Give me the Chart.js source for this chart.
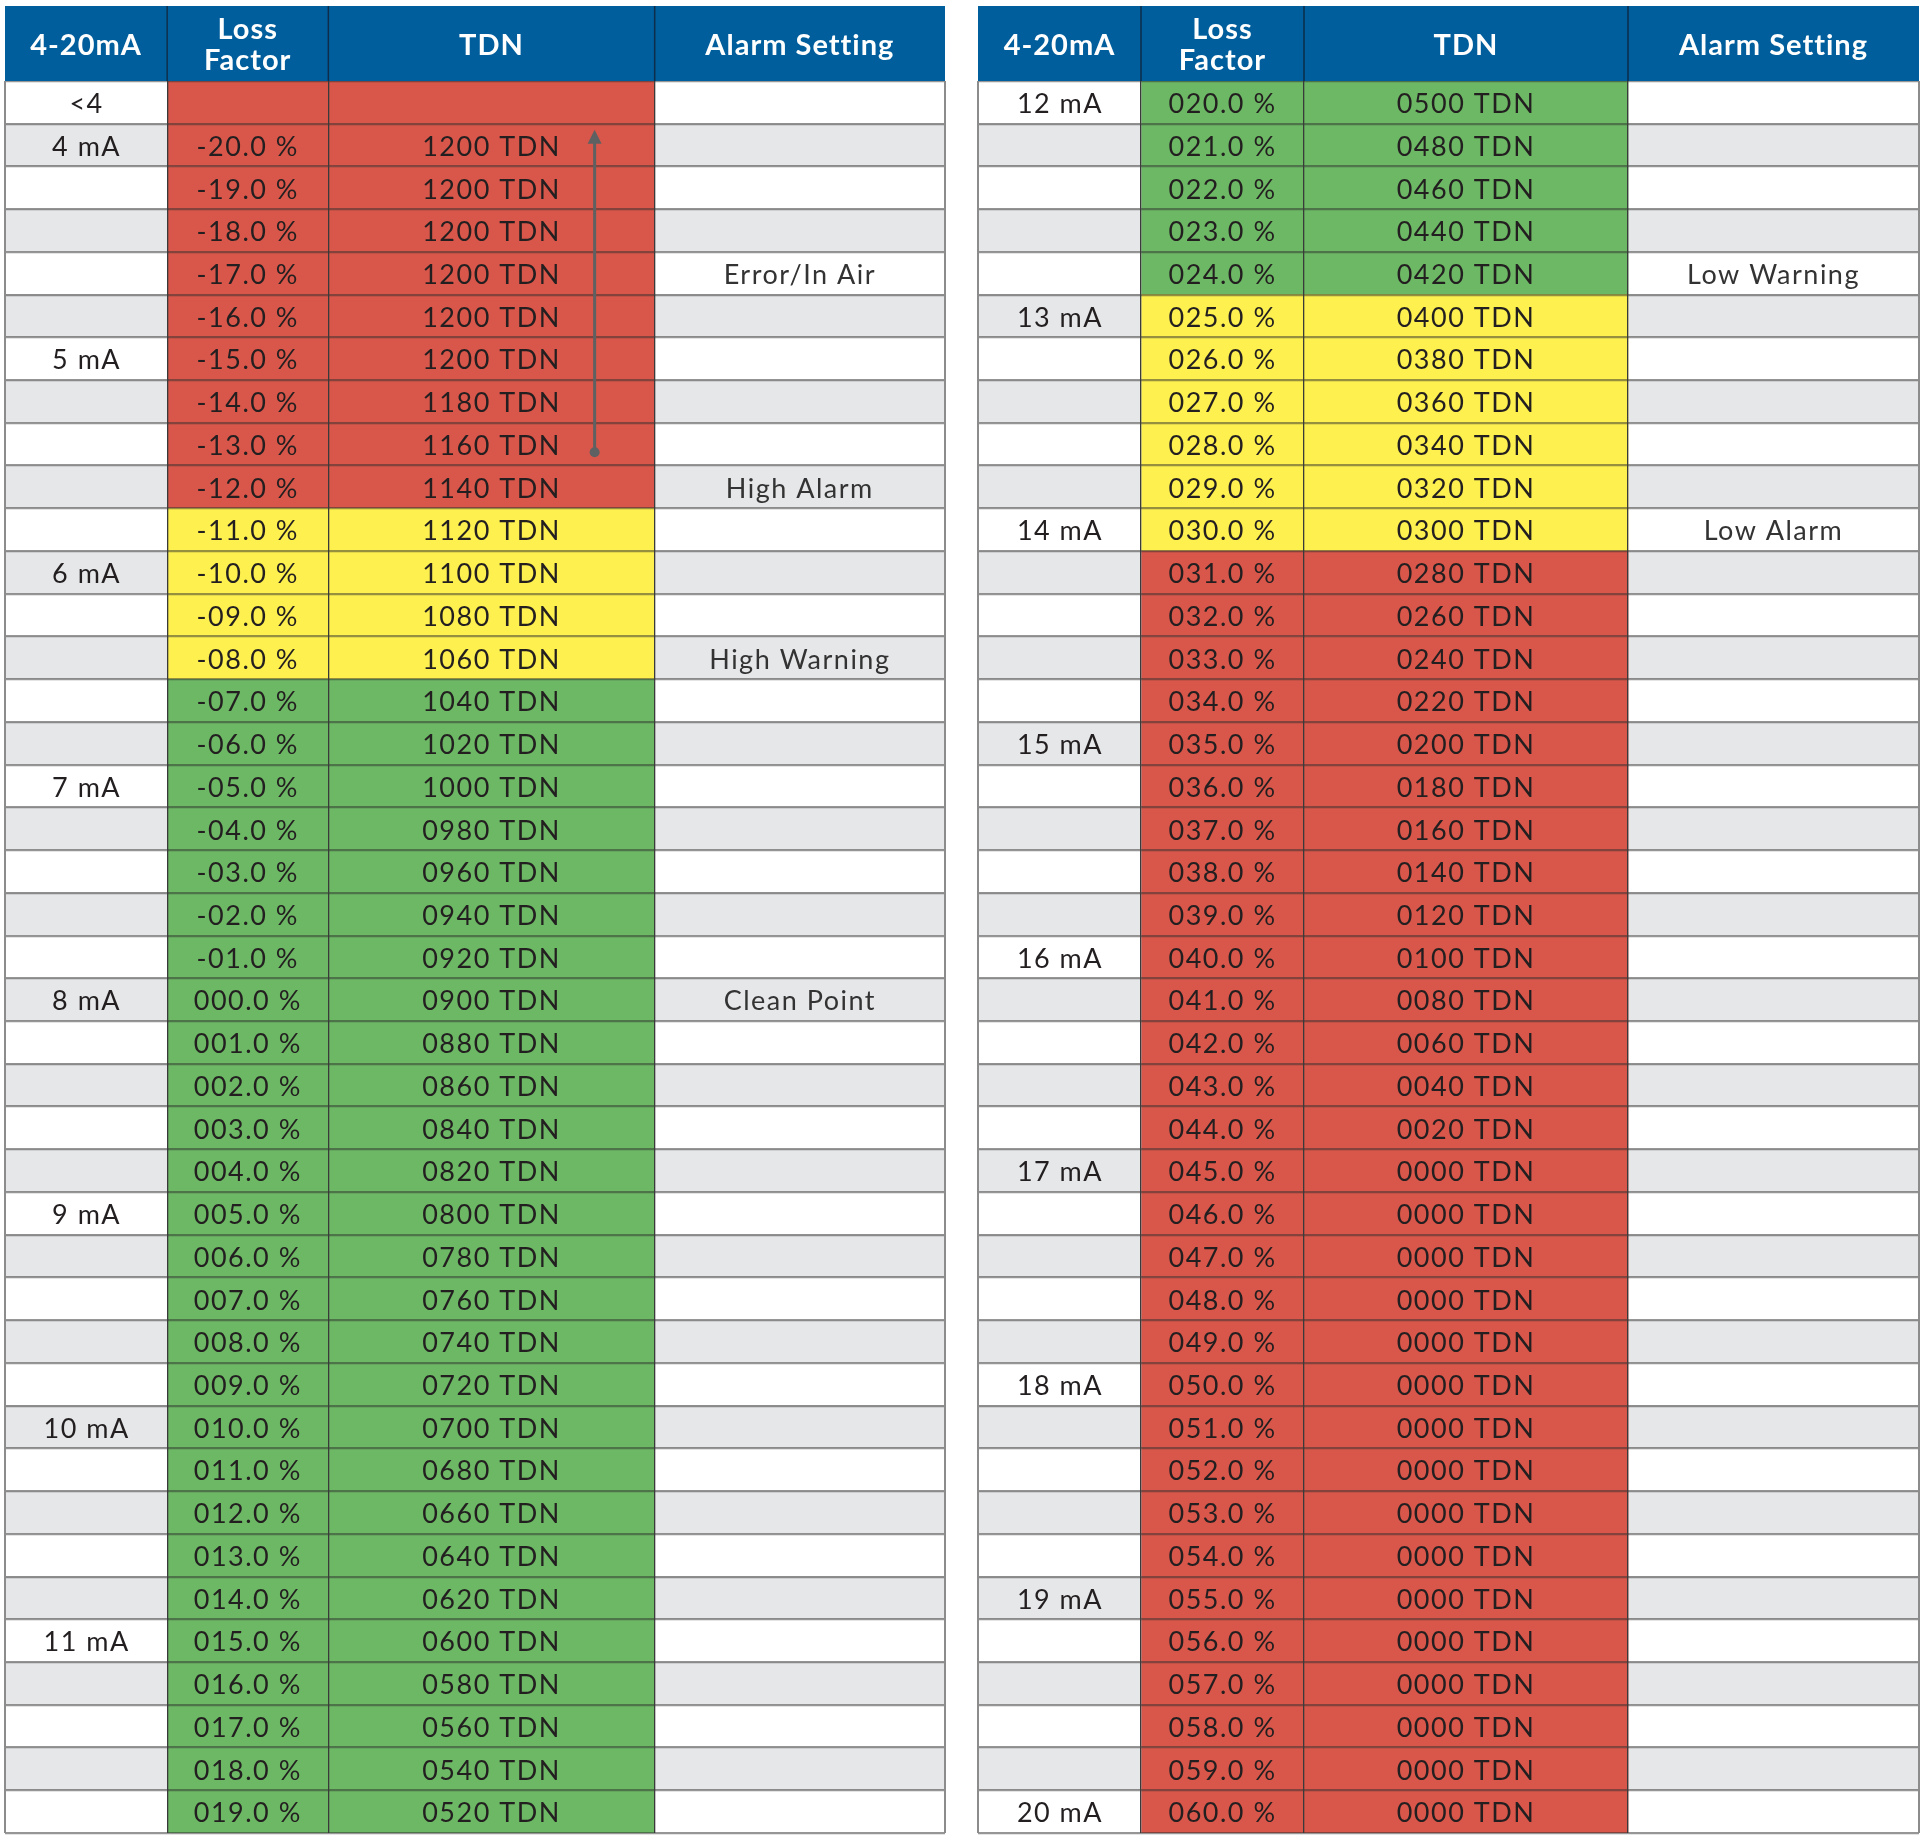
<!DOCTYPE html>
<html>
<head>
<meta charset="utf-8">
<script src="https://cdn.jsdelivr.net/npm/chart.js@4.4.1/dist/chart.umd.min.js"></script>
<style>
body{margin:0;background:#fff;width:1920px;height:1835px;position:relative;overflow:hidden}
canvas{position:absolute}
#left{left:3px;top:6px}
#right{left:976px;top:6px}
</style>
</head>
<body>
<canvas id="left" width="944" height="1829"></canvas>
<canvas id="right" width="945" height="1829"></canvas>
<script>
// column headers (same for both halves)
var headers = ['4-20mA', 'Loss\nFactor', 'TDN', 'Alarm Setting'];

// left half: <4 mA up to 11 mA
var leftMa = ['<4','4 mA','','','','','5 mA','','','','','6 mA','','','','','7 mA','','','','',
  '8 mA','','','','','9 mA','','','','','10 mA','','','','','11 mA','','','',''];
var leftLoss = [null,-20,-19,-18,-17,-16,-15,-14,-13,-12,-11,-10,-9,-8,-7,-6,-5,-4,-3,-2,-1,
  0,1,2,3,4,5,6,7,8,9,10,11,12,13,14,15,16,17,18,19];
var leftTdn = [null,1200,1200,1200,1200,1200,1200,1180,1160,1140,1120,1100,1080,1060,1040,1020,1000,
  980,960,940,920,900,880,860,840,820,800,780,760,740,720,700,680,660,640,620,600,580,560,540,520];
var leftZone = ['R','R','R','R','R','R','R','R','R','R','Y','Y','Y','Y',
  'G','G','G','G','G','G','G','G','G','G','G','G','G','G','G','G','G','G','G','G','G','G','G','G','G','G','G'];
var leftAlarm = ['','','','','Error/In Air','','','','','High Alarm','','','','High Warning','','','','','','','',
  'Clean Point','','','','','','','','','','','','','','','','','','',''];

// right half: 12 mA up to 20 mA
var rightMa = ['12 mA','','','','','13 mA','','','','','14 mA','','','','','15 mA','','','','',
  '16 mA','','','','','17 mA','','','','','18 mA','','','','','19 mA','','','','','20 mA'];
var rightLoss = [20,21,22,23,24,25,26,27,28,29,30,31,32,33,34,35,36,37,38,39,40,
  41,42,43,44,45,46,47,48,49,50,51,52,53,54,55,56,57,58,59,60];
var rightTdn = [500,480,460,440,420,400,380,360,340,320,300,280,260,240,220,200,180,160,140,120,100,
  80,60,40,20,0,0,0,0,0,0,0,0,0,0,0,0,0,0,0,0];
var rightZone = ['G','G','G','G','G','Y','Y','Y','Y','Y','Y',
  'R','R','R','R','R','R','R','R','R','R','R','R','R','R','R','R','R','R','R','R','R','R','R','R','R','R','R','R','R','R'];
var rightAlarm = ['','','','','Low Warning','','','','','','Low Alarm','','','','','','','','','','',
  '','','','','','','','','','','','','','','','','','','',''];

var zoneColors = {R: '#d9574a', Y: '#fdf04f', G: '#6db865'};
var WHITE = '#ffffff', GRAY = '#e6e7e9', BLUE = '#005e9c', INK = '#231f20';
var FONT = 'Lato, "Open Sans", sans-serif';
var HEADER_H = 75;

function pad(n, w) { var s = String(n); while (s.length < w) s = '0' + s; return s; }
function fmtLoss(v) {
  if (v === null) return '';
  return v < 0 ? '-' + pad(-v, 2) + '.0 %' : pad(v, 3) + '.0 %';
}
function fmtTdn(v) { return v === null ? '' : pad(v, 4) + ' TDN'; }

var tablePlugin = {
  id: 'tableText',
  afterDraw: function(chart) {
    var ctx = chart.ctx, area = chart.chartArea;
    var xs = chart.scales.x, ys = chart.scales.y;
    var edges = chart.options.plugins.tableText.edges;
    ctx.save();
    // header band
    var top = area.top - HEADER_H;
    for (var c = 0; c < 4; c++) {
      var x0 = xs.getPixelForValue(edges[c]), x1 = xs.getPixelForValue(edges[c + 1]);
      ctx.fillStyle = BLUE;
      ctx.fillRect(x0, top, x1 - x0, HEADER_H);
      if (c > 0) {
        ctx.strokeStyle = '#0d2d4a';
        ctx.lineWidth = 1.5;
        ctx.beginPath(); ctx.moveTo(x0, top); ctx.lineTo(x0, area.top); ctx.stroke();
      }
      ctx.fillStyle = '#ffffff';
      ctx.font = 'bold 29px ' + FONT;
      ctx.letterSpacing = '1px';
      ctx.textAlign = 'center';
      ctx.textBaseline = 'middle';
      var lines = headers[c].split('\n');
      var mid = top + HEADER_H / 2 + 2;
      lines.forEach(function(t, k) {
        ctx.fillText(t, (x0 + x1) / 2, mid + (k - (lines.length - 1) / 2) * 31);
      });
    }
    // cell texts
    ctx.font = '27px ' + FONT;
    ctx.letterSpacing = '1.5px';
    chart.data.datasets.forEach(function(ds, d) {
      var meta = chart.getDatasetMeta(d);
      ctx.fillStyle = d === 3 ? '#333333' : INK;
      meta.data.forEach(function(el, i) {
        var t = ds.cellText[i];
        if (t) ctx.fillText(t, (el.x + el.base) / 2, el.y + 2);
      });
    });
    // arrow
    var ar = chart.options.plugins.tableText.arrow;
    if (ar) {
      var rowH = ys.getPixelForValue(1) - ys.getPixelForValue(0);
      var ax = xs.getPixelForValue(ar.x);
      var yTip = ys.getPixelForValue(ar.to) - rowH / 2 + 6;
      var yEnd = ys.getPixelForValue(ar.from) + 8;
      ctx.strokeStyle = '#5f6062';
      ctx.fillStyle = '#5f6062';
      ctx.lineWidth = 3;
      ctx.beginPath(); ctx.moveTo(ax, yEnd); ctx.lineTo(ax, yTip + 12); ctx.stroke();
      ctx.beginPath(); ctx.moveTo(ax, yTip); ctx.lineTo(ax - 7, yTip + 14); ctx.lineTo(ax + 7, yTip + 14); ctx.closePath(); ctx.fill();
      ctx.beginPath(); ctx.arc(ax, yEnd, 5, 0, Math.PI * 2); ctx.fill();
    }
    ctx.restore();
  }
};

function buildTable(id, edges, ma, loss, tdn, zone, alarm, arrow) {
  var rows = ma.map(function(_, i) { return String(i); });
  var stripe = rows.map(function(_, i) { return i % 2 ? GRAY : WHITE; });
  var fill = zone.map(function(z) { return zoneColors[z]; });
  function span(c) { return rows.map(function() { return [edges[c], edges[c + 1]]; }); }
  var ds = [
    {data: span(0), backgroundColor: stripe, cellText: ma},
    {data: span(1), backgroundColor: fill, cellText: loss.map(fmtLoss)},
    {data: span(2), backgroundColor: fill, cellText: tdn.map(fmtTdn)},
    {data: span(3), backgroundColor: stripe, cellText: alarm}
  ];
  ds.forEach(function(d) {
    d.borderWidth = 0; d.barPercentage = 1; d.categoryPercentage = 1; d.grouped = false;
  });
  return new Chart(document.getElementById(id), {
    type: 'bar',
    data: {labels: rows, datasets: ds},
    options: {
      indexAxis: 'y',
      responsive: false,
      animation: false,
      devicePixelRatio: 1,
      layout: {padding: {top: HEADER_H, bottom: 2, left: 2, right: 2}},
      plugins: {
        legend: {display: false},
        tooltip: {enabled: false},
        tableText: {edges: edges, arrow: arrow}
      },
      scales: {
        x: {
          type: 'linear', min: 0, max: edges[edges.length - 1], position: 'top',
          afterBuildTicks: function(s) { s.ticks = edges.map(function(v) { return {value: v}; }); },
          ticks: {display: false},
          border: {display: false},
          grid: {
            z: 2, drawTicks: false,
            color: function(c) { return (c.index === 0 || c.index === edges.length - 1) ? '#8c8c8c' : '#3a3a3a'; },
            lineWidth: function(c) { return (c.index === 0 || c.index === edges.length - 1) ? 2 : 1.3; }
          }
        },
        y: {
          type: 'category',
          ticks: {display: false},
          border: {display: false},
          grid: {z: 1, offset: true, drawTicks: false, color: 'rgba(45,45,45,0.5)', lineWidth: 2.2}
        }
      }
    },
    plugins: [tablePlugin]
  });
}

buildTable('left', [0, 162, 323, 649, 939], leftMa, leftLoss, leftTdn, leftZone, leftAlarm,
  {x: 589, from: 8, to: 1});
buildTable('right', [0, 163, 326, 650, 941], rightMa, rightLoss, rightTdn, rightZone, rightAlarm, null);
</script>
</body>
</html>
